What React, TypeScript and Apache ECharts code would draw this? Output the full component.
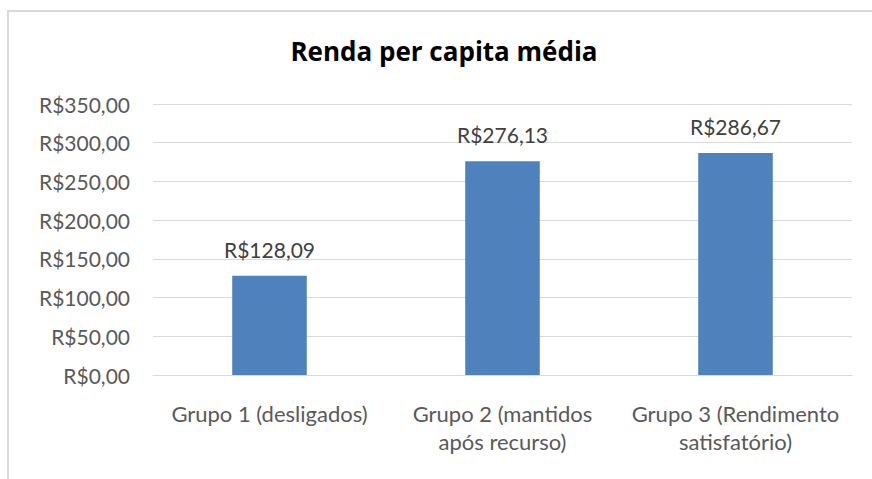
import React, { useEffect, useRef } from "react";
import * as echarts from "echarts";

const categories = [
  "Grupo 1 (desligados)",
  "Grupo 2 (mantidos\napós recurso)",
  "Grupo 3 (Rendimento\nsatisfatório)",
];
const values = [128.09, 276.13, 286.67];
const yMin = 0;
const yMax = 350;
const yInterval = 50;
const titleText = "Renda per capita média";

const fmt = (v: number) => "R$" + v.toFixed(2).replace(".", ",");
const FONT = "Lato";

export default function App() {
  const ref = useRef<HTMLDivElement>(null);
  useEffect(() => {
    if (!ref.current) return;
    const chart = echarts.init(ref.current, undefined, { renderer: "svg" });
    chart.setOption({
      animation: false,
      backgroundColor: "#ffffff",
      title: {
        text: titleText,
        left: 439,
        top: 33,
        textAlign: "center",
        textStyle: { fontFamily: "Open Sans", fontSize: 26, fontWeight: "bold", color: "#000000" },
      },
      graphic: [
        { type: "line", shape: { x1: 7, y1: 11, x2: 872, y2: 11 }, style: { stroke: "#d9d9d9", lineWidth: 2 } },
        { type: "line", shape: { x1: 8, y1: 11, x2: 8, y2: 479 }, style: { stroke: "#d9d9d9", lineWidth: 2 } },
      ],
      grid: { left: 153, right: 20, top: 104, bottom: 104, containLabel: false },
      xAxis: {
        type: "category",
        data: categories,
        axisTick: { show: false },
        axisLine: { show: true, lineStyle: { color: "#d9d9d9", width: 1 } },
        axisLabel: {
          margin: 24,
          lineHeight: 28,
          fontFamily: FONT,
          fontSize: 22,
          color: "#595959",
          interval: 0,
        },
      },
      yAxis: {
        type: "value",
        min: yMin,
        max: yMax,
        interval: yInterval,
        axisLine: { show: false },
        axisTick: { show: false },
        splitLine: { lineStyle: { color: "#d9d9d9", width: 1 } },
        axisLabel: {
          margin: 23,
          fontFamily: FONT,
          fontSize: 21,
          color: "#595959",
          formatter: (v: number) => fmt(v),
        },
      },
      series: [
        {
          type: "bar",
          data: values,
          barWidth: "32%",
          itemStyle: { color: "#4f81bd" },
          label: {
            show: true,
            position: "top",
            distance: 16,
            fontFamily: FONT,
            fontSize: 21,
            color: "#404040",
            formatter: (p: any) => fmt(p.value),
          },
        },
      ],
    });
    return () => chart.dispose();
  }, []);
  return (
    <div
      ref={ref}
      style={{ position: "fixed", left: 0, top: 0, width: 872, height: 479 }}
    />
  );
}
